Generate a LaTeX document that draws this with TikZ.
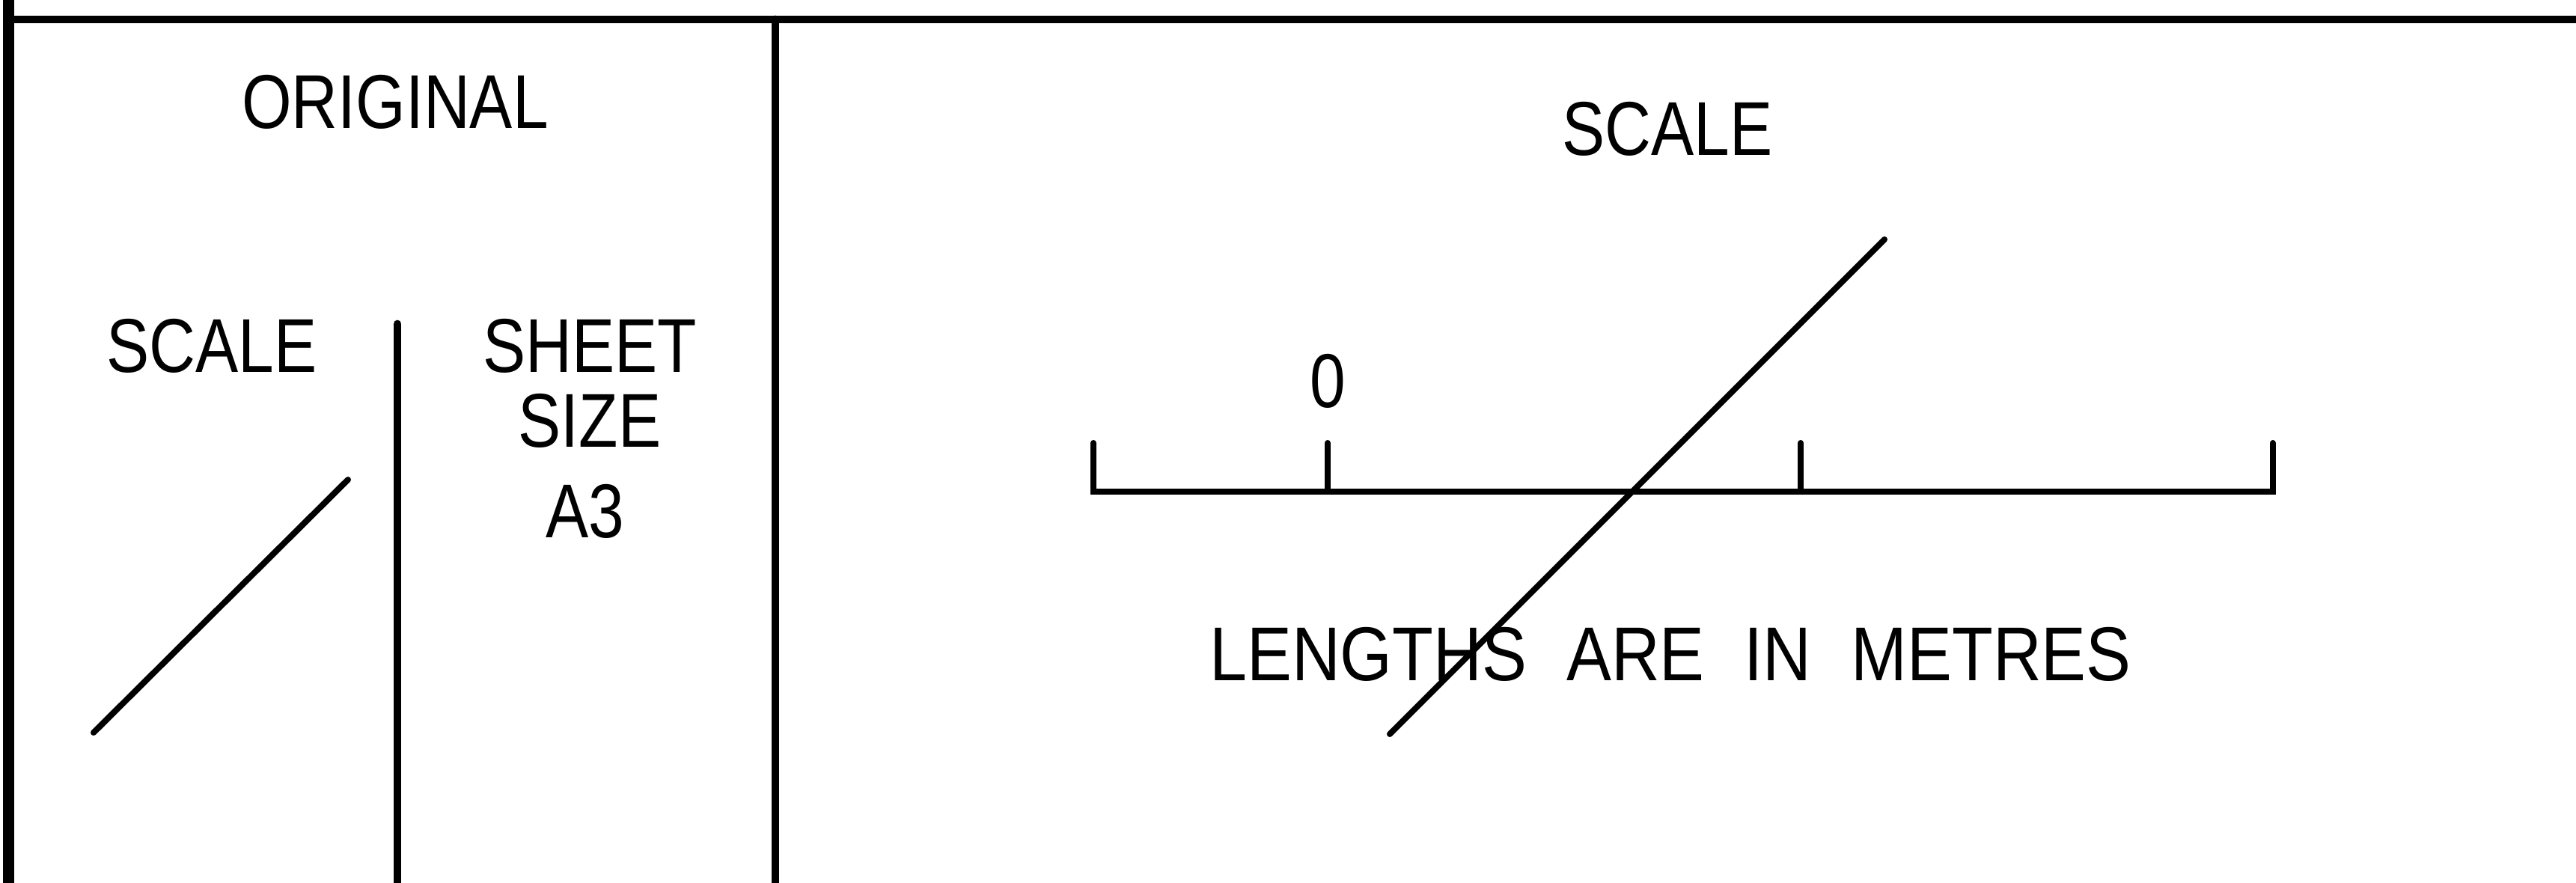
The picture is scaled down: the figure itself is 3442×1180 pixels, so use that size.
\documentclass[tikz,border=0pt]{standalone}
\usepackage{fontspec}
\setmainfont{Liberation Sans}[FakeStretch=0.84]

\begin{document}
\begin{tikzpicture}[x=0.01cm, y=-0.01cm,
  frameline/.style={line width=3pt},
  sideline/.style={line width=4.2pt},
  splitline/.style={line width=3.1pt, line cap=round},
  barline/.style={line width=2.3pt, line cap=round, line join=miter},
  txt/.style={anchor=base, inner sep=0pt, font=\fontsize{29}{34}\selectfont}
]
\useasboundingbox (0,0) rectangle (3442,1180);
% frame of the block
\draw[sideline] (11.5,0) -- (11.5,1180);
\draw[frameline] (4,26) -- (3442,26);
\draw[splitline] (1036,26) -- (1036,1180);
\draw[splitline] (531,433) -- (531,1180);
% left panel
\node[txt] (orig) at (528,172) {ORIGINAL};
\node[txt] (scl) at (283,498) {SCALE};
\node[txt] (sheet) at (788,498) {SHEET};
\node[txt] (size) at (788,598) {SIZE};
\node[txt] (a3) at (782,719) {A3};
\draw[barline] (125,979) -- (465,641);
% right panel
\node[txt] (sclhd) at (2228,208) {SCALE};
\node[txt] (zero) at (1774,545) {0};
\node[txt, font=\fontsize{29}{34}\selectfont\addfontfeature{FakeStretch=0.88}] (units) at (2232,910)
  {LENGTHS\hspace{0.52em}ARE\hspace{0.52em}IN\hspace{0.52em}METRES};
\draw[barline] (1461,592) -- (1461,657) -- (3037,657) -- (3037,592);
\foreach \x in {1774,2406}
  \draw[barline] (\x,592) -- (\x,657);
\draw[barline] (1857,981) -- (2518,320);
\end{tikzpicture}
\end{document}
